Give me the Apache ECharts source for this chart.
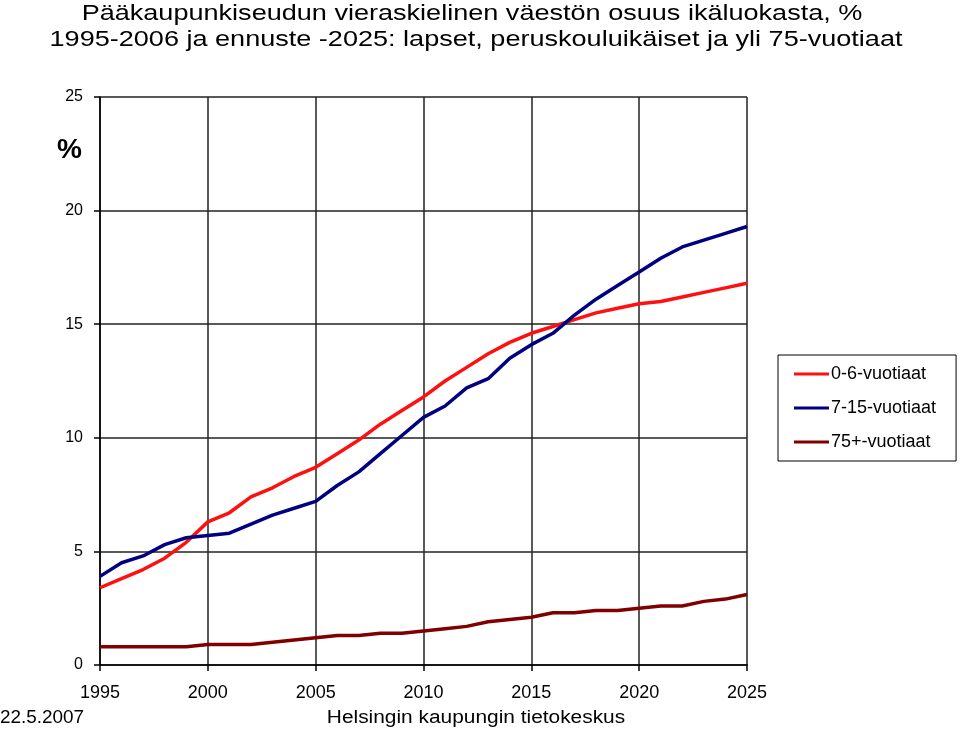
<!DOCTYPE html>
<html>
<head>
<meta charset="utf-8">
<script src="https://cdn.jsdelivr.net/npm/echarts@6/dist/echarts.min.js"></script>
<style>html,body{margin:0;padding:0;background:#fff}#c{width:960px;height:732px}</style>
</head>
<body>
<div id="c"></div>
<script>
var years = [1995,1996,1997,1998,1999,2000,2001,2002,2003,2004,2005,2006,2007,2008,2009,2010,2011,2012,2013,2014,2015,2016,2017,2018,2019,2020,2021,2022,2023,2024,2025];
var age0to6 = [3.4,3.8,4.2,4.7,5.4,6.3,6.7,7.4,7.8,8.3,8.7,9.3,9.9,10.6,11.2,11.8,12.5,13.1,13.7,14.2,14.6,14.9,15.2,15.5,15.7,15.9,16.0,16.2,16.4,16.6,16.8];
var age7to15 = [3.9,4.5,4.8,5.3,5.6,5.7,5.8,6.2,6.6,6.9,7.2,7.9,8.5,9.3,10.1,10.9,11.4,12.2,12.6,13.5,14.1,14.6,15.4,16.1,16.7,17.3,17.9,18.4,18.7,19.0,19.3];
var age75plus = [0.8,0.8,0.8,0.8,0.8,0.9,0.9,0.9,1.0,1.1,1.2,1.3,1.3,1.4,1.4,1.5,1.6,1.7,1.9,2.0,2.1,2.3,2.3,2.4,2.4,2.5,2.6,2.6,2.8,2.9,3.1];
var seriesNames = ['0-6-vuotiaat','7-15-vuotiaat','75+-vuotiaat'];
var titleLines = ['Pääkaupunkiseudun vieraskielinen väestön osuus ikäluokasta, %','1995-2006 ja ennuste -2025: lapset, peruskouluikäiset ja yli 75-vuotiaat'];
var footerDate = '22.5.2007';
var footerSource = 'Helsingin kaupungin tietokeskus';

function pairs(v){ return years.map(function(y,i){ return [y, v[i]]; }); }
var FONT = '"Liberation Sans", Arial, sans-serif';
var chart = echarts.init(document.getElementById('c'));
chart.setOption({
  animation: false,
  backgroundColor: '#fff',
  textStyle: { fontFamily: FONT, color: '#000' },
  graphic: [
    { type: 'text', x: 472, y: 3, scaleX: 1.23, style: { text: titleLines[0], font: '22px ' + FONT, fill: '#000', align: 'center', verticalAlign: 'top' } },
    { type: 'text', x: 476, y: 29, scaleX: 1.23, style: { text: titleLines[1], font: '22px ' + FONT, fill: '#000', align: 'center', verticalAlign: 'top' } },
    { type: 'text', x: 57, y: 136, style: { text: '%', font: 'bold 28px ' + FONT, fill: '#000', verticalAlign: 'top' } },
    { type: 'text', x: 0, y: 709, scaleX: 1.05, style: { text: footerDate, font: '18px ' + FONT, fill: '#000', verticalAlign: 'top' } },
    { type: 'text', x: 476, y: 709, scaleX: 1.16, style: { text: footerSource, font: '18px ' + FONT, fill: '#000', align: 'center', verticalAlign: 'top' } }
  ],
  legend: {
    orient: 'vertical',
    left: 778, top: 355,
    width: 179,
    padding: [10, 20, 10, 16],
    itemGap: 16,
    itemWidth: 35, itemHeight: 3,
    icon: 'rect',
    borderColor: '#000', borderWidth: 1,
    textStyle: { fontFamily: FONT, fontSize: 18, color: '#000', padding: [0,0,0,-3] },
    data: seriesNames
  },
  grid: { left: 100, right: 213, top: 97, bottom: 67 },
  xAxis: {
    type: 'value', min: 1995, max: 2025, interval: 5,
    axisLine: { show: true, lineStyle: { color: '#000', width: 1.5 } },
    axisTick: { show: true, length: 6, lineStyle: { color: '#000', width: 1.5 } },
    axisLabel: { fontFamily: FONT, fontSize: 18, color: '#000', margin: 19, formatter: function(v){ return String(v); } },
    splitLine: { show: true, lineStyle: { color: '#222', width: 1.5 } }
  },
  yAxis: {
    type: 'value', min: 0, max: 25, interval: 5,
    axisLine: { show: true, lineStyle: { color: '#000', width: 1.5 } },
    axisTick: { show: true, length: 6, lineStyle: { color: '#000', width: 1.5 } },
    axisLabel: { fontFamily: FONT, fontSize: 16, color: '#000', margin: 17 },
    splitLine: { show: true, lineStyle: { color: '#222', width: 1.5 } }
  },
  series: [
    { name: seriesNames[0], type: 'line', data: pairs(age0to6), symbol: 'none', color: '#ff1010', lineStyle: { width: 3.5, color: '#ff1010' } },
    { name: seriesNames[1], type: 'line', data: pairs(age7to15), symbol: 'none', color: '#000080', lineStyle: { width: 3.5, color: '#000080' } },
    { name: seriesNames[2], type: 'line', data: pairs(age75plus), symbol: 'none', color: '#800000', lineStyle: { width: 3.5, color: '#800000' } }
  ]
});
</script>
</body>
</html>
